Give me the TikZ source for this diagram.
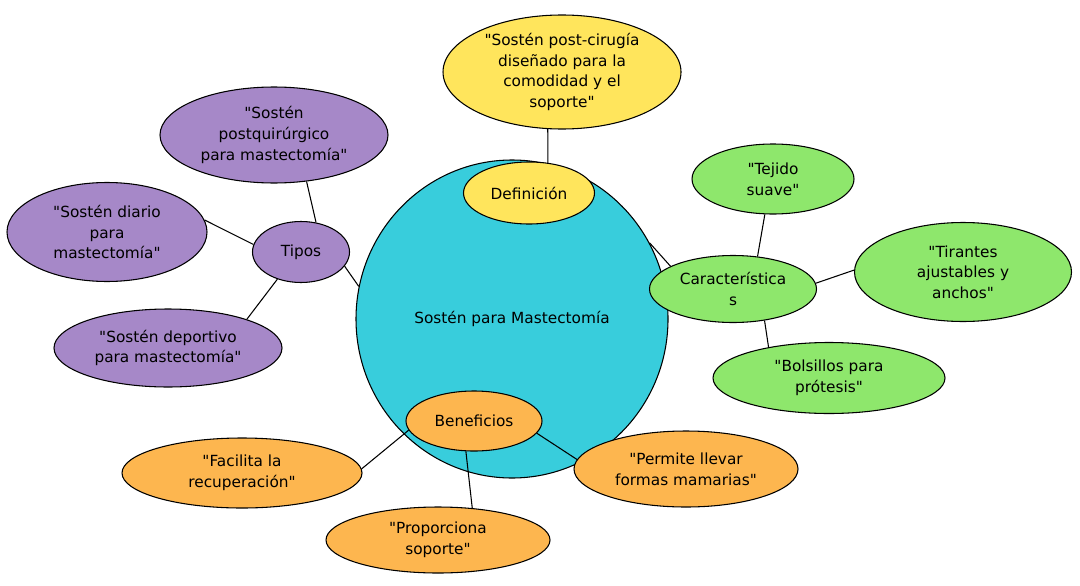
\documentclass[tikz,border=0pt]{standalone}
\usepackage{fontspec}
\setmainfont{DejaVu Sans}
\usetikzlibrary{shapes.geometric}
\definecolor{ccyan}{HTML}{38CDDC}
\definecolor{cyel}{HTML}{FFE55C}
\definecolor{cpur}{HTML}{A688C8}
\definecolor{cgrn}{HTML}{8EE76C}
\definecolor{corg}{HTML}{FDB64F}
\newcommand{\q}{\textquotedbl}
\tikzset{
  bub/.style={ellipse, draw=black, line width=0.8pt, inner sep=0pt, align=center,
    font=\fontsize{11.5}{15.5}\selectfont},
  sz/.style 2 args={minimum width=#1*0.75pt, minimum height=#2*0.75pt},
  link/.style={draw=black, line width=0.8pt},
}
\begin{document}
\begin{tikzpicture}[x=0.75pt,y=-0.75pt]
\useasboundingbox (0,0) rectangle (1080,585);
% central
\node[bub, fill=ccyan, sz={312}{318}] (c) at (512,319) {Sostén para Mastectomía};
% definicion
\node[bub, fill=cyel, sz={131}{62}] (def) at (529,193) {Definición};
\node[bub, fill=cyel, sz={238}{114}] (deft) at (562,72) {\q Sostén post-cirugía\\diseñado para la\\comodidad y el\\soporte\q};
% tipos
\node[bub, fill=cpur, sz={97}{61}] (tip) at (301,252) {Tipos};
\node[bub, fill=cpur, sz={228}{96}] (t1) at (274,135) {\q Sostén\\postquirúrgico\\para mastectomía\q};
\node[bub, fill=cpur, sz={200}{99}] (t2) at (107,232) {\q Sostén diario\\para\\mastectomía\q};
\node[bub, fill=cpur, sz={228}{78}] (t3) at (168,348) {\q Sostén deportivo\\para mastectomía\q};
% caracteristicas
\node[bub, fill=cgrn, sz={167}{67}] (car) at (733,289) {Característica\\s};
\node[bub, fill=cgrn, sz={162}{70}] (k1) at (773,179) {\q Tejido\\suave\q};
\node[bub, fill=cgrn, sz={217}{99}] (k2) at (963,272) {\q Tirantes\\ajustables y\\anchos\q};
\node[bub, fill=cgrn, sz={232}{71}] (k3) at (829,378) {\q Bolsillos para\\prótesis\q};
% beneficios
\node[bub, fill=corg, sz={136}{60}] (ben) at (474,421) {Beneficios};
\node[bub, fill=corg, sz={240}{70}] (b1) at (242,473) {\q Facilita la\\recuperación\q};
\node[bub, fill=corg, sz={224}{66}] (b2) at (438,540) {\q Proporciona\\soporte\q};
\node[bub, fill=corg, sz={224}{76}] (b3) at (686,469) {\q Permite llevar\\formas mamarias\q};
% connectors
\draw[link] (def.58) -- (deft.-104);
\draw[link] (tip.-18) -- (c.168);
\draw[link] (c.29) -- (car.160);
\draw[link] (tip.63) -- (t1.-55);
\draw[link] (tip.171) -- (t2.7);
\draw[link] (tip.-131) -- (t3.20);
\draw[link] (car.53) -- (k1.-103);
\draw[link] (car.4) -- (k2.179);
\draw[link] (car.-45) -- (k3.153);
\draw[link] (ben.-172) -- (b1.2);
\draw[link] (ben.-105) -- (b2.43);
\draw[link] (ben.-11) -- (b3.175);
\end{tikzpicture}
\end{document}
